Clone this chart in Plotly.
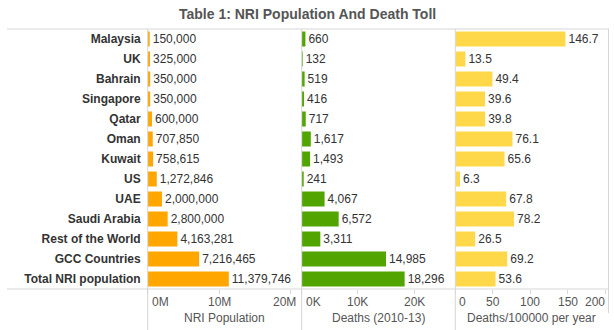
import plotly.graph_objects as go

W, H = 614, 330

countries = ["Malaysia", "UK", "Bahrain", "Singapore", "Qatar", "Oman", "Kuwait", "US",
             "UAE", "Saudi Arabia", "Rest of the World", "GCC Countries", "Total NRI population"]
population = [150000, 325000, 350000, 350000, 600000, 707850, 758615, 1272846,
              2000000, 2800000, 4163281, 7216465, 11379746]
deaths = [660, 132, 519, 416, 717, 1617, 1493, 241, 4067, 6572, 3311, 14985, 18296]
rate = [146.7, 13.5, 49.4, 39.6, 39.8, 76.1, 65.6, 6.3, 67.8, 78.2, 26.5, 69.2, 53.6]

pop_ticks = [0, 10e6, 20e6]
pop_ticktext = ["0M", "10M", "20M"]
death_ticks = [0, 10000, 20000]
death_ticktext = ["0K", "10K", "20K"]
rate_ticks = [0, 50, 100, 150, 200]
rate_ticktext = ["0", "50", "100", "150", "200"]

titles = ["NRI Population", "Deaths (2010-13)", "Deaths/100000 per year"]

ORANGE = "#FFA600"
GREEN = "#52A500"
YELLOW = "#FFD84A"
LINE = "#D6D6D6"
TXT = "#333333"
FONT = "Liberation Sans, Arial, sans-serif"


def px(x):
    return x / W


def py(y):
    return 1 - y / H


edges = [147.7, 301.7, 455.3, 608.5]
ranges = [21.6e6, 27.3e3, 204]
ytop, ybot = 29, 289

fig = go.Figure()

series = [
    (population, ORANGE, "x", [f"{v:,}" for v in population]),
    (deaths, GREEN, "x2", [f"{v:,}" for v in deaths]),
    (rate, YELLOW, "x3", [f"{v:.1f}" for v in rate]),
]
for vals, col, xa, txt in series:
    fig.add_trace(go.Bar(
        y=countries, x=vals, orientation="h", xaxis=xa, yaxis="y",
        marker=dict(color=col, line=dict(width=0)), width=0.75,
        text=txt, textposition="outside", constraintext="none", cliponaxis=False,
        textfont=dict(family=FONT, size=12, color=TXT),
        hoverinfo="skip", showlegend=False,
    ))

ticks_all = [pop_ticks, death_ticks, rate_ticks]
texts_all = [pop_ticktext, death_ticktext, rate_ticktext]
axis_common = dict(showgrid=False, zeroline=False, showline=False, showticklabels=False,
                   ticks="outside", ticklen=4, tickcolor=LINE, tickwidth=1,
                   anchor="y", fixedrange=True)
layout_axes = {}
for i in range(3):
    name = "xaxis" if i == 0 else f"xaxis{i+1}"
    layout_axes[name] = dict(domain=[px(edges[i]), px(edges[i + 1])],
                             range=[0, ranges[i]], tickvals=ticks_all[i], **axis_common)

annotations = []
xrefs = ["x", "x2", "x3"]
for i in range(3):
    tv, tt = ticks_all[i], texts_all[i]
    for j, (v, t) in enumerate(zip(tv, tt)):
        if j == 0:
            xa, xs = "left", 2
        elif j == len(tv) - 1 and i != 1:
            xa, xs = "right", 0
            if i == 0:
                xs = 8
            else:
                xs = 1
        else:
            xa, xs = "center", 0
        annotations.append(dict(x=v, xref=xrefs[i], y=py(302), yref="paper", text=t,
                                showarrow=False, xanchor=xa, yanchor="middle", xshift=xs,
                                font=dict(family=FONT, size=12, color="#555555")))
    annotations.append(dict(x=px((edges[i] + edges[i + 1]) / 2), xref="paper", y=py(318),
                            yref="paper", text=titles[i], showarrow=False,
                            xanchor="center", yanchor="middle",
                            font=dict(family=FONT, size=12, color="#555555")))

annotations.append(dict(x=px(307), xref="paper", y=py(14), yref="paper",
                        text="<b>Table 1: NRI Population And Death Toll</b>", showarrow=False,
                        xanchor="center", yanchor="middle",
                        font=dict(family="Liberation Sans Narrow, Arial Narrow, Liberation Sans, sans-serif",
                                  size=14, color="#555555")))

shapes = []
shapes.append(dict(type="line", xref="paper", yref="paper", x0=px(7), x1=px(609),
                   y0=py(ytop), y1=py(ytop), line=dict(color=LINE, width=1)))
shapes.append(dict(type="line", xref="paper", yref="paper", x0=px(7), x1=px(609),
                   y0=py(ybot), y1=py(ybot), line=dict(color=LINE, width=1)))
for e in edges[:3]:
    shapes.append(dict(type="line", xref="paper", yref="paper", x0=px(e), x1=px(e),
                       y0=py(ytop), y1=py(330), line=dict(color=LINE, width=1)))
shapes.append(dict(type="line", xref="paper", yref="paper", x0=px(edges[3]), x1=px(edges[3]),
                   y0=py(ytop), y1=py(313), line=dict(color=LINE, width=1)))

fig.update_layout(
    width=W, height=H, margin=dict(l=0, r=0, t=0, b=0),
    paper_bgcolor="white", plot_bgcolor="rgba(0,0,0,0)",
    yaxis=dict(domain=[py(ybot), py(ytop)], range=[12.5, -0.5], type="category",
               categoryorder="array", categoryarray=countries,
               showgrid=False, zeroline=False, showline=False, ticks="",
               ticklabelstandoff=6, anchor="x", fixedrange=True,
               tickfont=dict(family=FONT, size=12, color=TXT, weight="bold")),
    annotations=annotations, shapes=shapes, bargap=0.25,
    **layout_axes,
)

fig.write_html("out.html")
